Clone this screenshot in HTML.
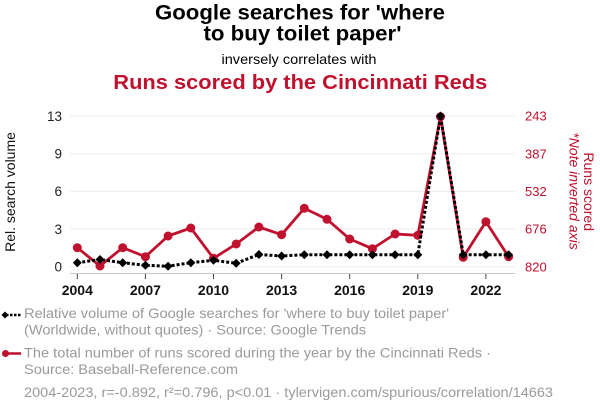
<!DOCTYPE html>
<html><head><meta charset="utf-8"><style>
html,body{margin:0;padding:0;background:#fff;}
svg{display:block;}
text{font-family:"Liberation Sans",Arial,sans-serif;}
</style></head><body>
<svg width="600" height="414" viewBox="0 0 600 414" xmlns="http://www.w3.org/2000/svg">
<rect width="600" height="414" fill="#fff"/>
<!-- titles -->
<text x="300" y="19.5" text-anchor="middle" font-size="21" font-weight="bold" fill="#000" textLength="290" lengthAdjust="spacingAndGlyphs">Google searches for 'where</text>
<text x="302.5" y="40.7" text-anchor="middle" font-size="21" font-weight="bold" fill="#000" textLength="198" lengthAdjust="spacingAndGlyphs">to buy toilet paper'</text>
<text x="299" y="64" text-anchor="middle" font-size="14" fill="#000" textLength="155" lengthAdjust="spacingAndGlyphs">inversely correlates with</text>
<text x="300.3" y="89" text-anchor="middle" font-size="20.5" font-weight="bold" fill="#c0112e" textLength="374" lengthAdjust="spacingAndGlyphs">Runs scored by the Cincinnati Reds</text>

<!-- gridlines -->
<g stroke="#eeeeee" stroke-width="1">
<line x1="70" y1="116" x2="515" y2="116"/>
<line x1="70" y1="153.7" x2="515" y2="153.7"/>
<line x1="70" y1="191.4" x2="515" y2="191.4"/>
<line x1="70" y1="229" x2="515" y2="229"/>
<line x1="70" y1="266.7" x2="515" y2="266.7"/>
</g>
<line x1="70" y1="273.5" x2="515" y2="273.5" stroke="#c8c8c8" stroke-width="1"/>
<g stroke="#444" stroke-width="1">
<line x1="77.3" y1="274" x2="77.3" y2="279"/>
<line x1="145.4" y1="274" x2="145.4" y2="279"/>
<line x1="213.5" y1="274" x2="213.5" y2="279"/>
<line x1="281.6" y1="274" x2="281.6" y2="279"/>
<line x1="349.7" y1="274" x2="349.7" y2="279"/>
<line x1="417.8" y1="274" x2="417.8" y2="279"/>
<line x1="485.9" y1="274" x2="485.9" y2="279"/>
</g>

<!-- left tick labels -->
<g font-size="13.5" fill="#222" text-anchor="end">
<text x="62" y="121">13</text>
<text x="62" y="158.5">9</text>
<text x="62" y="196.2">6</text>
<text x="62" y="233.8">3</text>
<text x="62" y="271.5">0</text>
</g>
<!-- right tick labels -->
<g font-size="13" fill="#c0112e" text-anchor="start">
<text x="525" y="120.7">243</text>
<text x="525" y="158.4">387</text>
<text x="525" y="196.1">532</text>
<text x="525" y="233.7">676</text>
<text x="525" y="271.4">820</text>
</g>
<!-- x tick labels -->
<g font-size="14" font-weight="bold" fill="#111" text-anchor="middle">
<text x="77.3" y="295">2004</text>
<text x="145.4" y="295">2007</text>
<text x="213.5" y="295">2010</text>
<text x="281.6" y="295">2013</text>
<text x="349.7" y="295">2016</text>
<text x="417.8" y="295">2019</text>
<text x="485.9" y="295">2022</text>
</g>

<!-- axis titles -->
<text transform="translate(15,192) rotate(-90)" text-anchor="middle" font-size="14" fill="#111">Rel. search volume</text>
<text transform="translate(584,191.7) rotate(90)" text-anchor="middle" font-size="14" fill="#c0112e">Runs scored</text>
<text transform="translate(569.5,191) rotate(90)" text-anchor="middle" font-size="14" font-style="italic" fill="#c0112e">*Note inverted axis</text>

<!-- red series -->
<polyline fill="none" stroke="#c0112e" stroke-width="2.8" stroke-linejoin="round" points="77.3,247.7 100,266 122.7,247.7 145.4,256.7 168.1,236 190.8,228 213.5,258.3 236.2,244 258.9,227 281.6,234.7 304.3,208.3 327,219.3 349.7,239 372.4,248.7 395.1,234 417.8,235.3 440.5,116.7 463.2,257.3 485.9,221.7 508.6,256.7"/>
<g fill="#c0112e">
<circle cx="77.3" cy="247.7" r="4.5"/><circle cx="100" cy="266" r="4.5"/><circle cx="122.7" cy="247.7" r="4.5"/><circle cx="145.4" cy="256.7" r="4.5"/><circle cx="168.1" cy="236" r="4.5"/><circle cx="190.8" cy="228" r="4.5"/><circle cx="213.5" cy="258.3" r="4.5"/><circle cx="236.2" cy="244" r="4.5"/><circle cx="258.9" cy="227" r="4.5"/><circle cx="281.6" cy="234.7" r="4.5"/><circle cx="304.3" cy="208.3" r="4.5"/><circle cx="327" cy="219.3" r="4.5"/><circle cx="349.7" cy="239" r="4.5"/><circle cx="372.4" cy="248.7" r="4.5"/><circle cx="395.1" cy="234" r="4.5"/><circle cx="417.8" cy="235.3" r="4.5"/><circle cx="440.5" cy="116.7" r="4.5"/><circle cx="463.2" cy="257.3" r="4.5"/><circle cx="485.9" cy="221.7" r="4.5"/><circle cx="508.6" cy="256.7" r="4.5"/>
</g>

<!-- black series -->
<polyline fill="none" stroke="#000" stroke-width="3" stroke-dasharray="3,2" points="77.3,262.7 100,259.5 122.7,262.7 145.4,265.3 168.1,266.2 190.8,262.7 213.5,260.3 236.2,263.3 258.9,254.5 281.6,256 304.3,254.7 327,254.7 349.7,254.7 372.4,254.7 395.1,254.7 417.8,254.7 440.5,116 463.2,254.7 485.9,254.7 508.6,254.7"/>
<g fill="#000">
<path d="M77.3,258.2 l4.5,4.5 l-4.5,4.5 l-4.5,-4.5z"/>
<path d="M100,255 l4.5,4.5 l-4.5,4.5 l-4.5,-4.5z"/>
<path d="M122.7,258.2 l4.5,4.5 l-4.5,4.5 l-4.5,-4.5z"/>
<path d="M145.4,260.8 l4.5,4.5 l-4.5,4.5 l-4.5,-4.5z"/>
<path d="M168.1,261.7 l4.5,4.5 l-4.5,4.5 l-4.5,-4.5z"/>
<path d="M190.8,258.2 l4.5,4.5 l-4.5,4.5 l-4.5,-4.5z"/>
<path d="M213.5,255.8 l4.5,4.5 l-4.5,4.5 l-4.5,-4.5z"/>
<path d="M236.2,258.8 l4.5,4.5 l-4.5,4.5 l-4.5,-4.5z"/>
<path d="M258.9,250 l4.5,4.5 l-4.5,4.5 l-4.5,-4.5z"/>
<path d="M281.6,251.5 l4.5,4.5 l-4.5,4.5 l-4.5,-4.5z"/>
<path d="M304.3,250.2 l4.5,4.5 l-4.5,4.5 l-4.5,-4.5z"/>
<path d="M327,250.2 l4.5,4.5 l-4.5,4.5 l-4.5,-4.5z"/>
<path d="M349.7,250.2 l4.5,4.5 l-4.5,4.5 l-4.5,-4.5z"/>
<path d="M372.4,250.2 l4.5,4.5 l-4.5,4.5 l-4.5,-4.5z"/>
<path d="M395.1,250.2 l4.5,4.5 l-4.5,4.5 l-4.5,-4.5z"/>
<path d="M417.8,250.2 l4.5,4.5 l-4.5,4.5 l-4.5,-4.5z"/>
<path d="M440.5,111.5 l4.5,4.5 l-4.5,4.5 l-4.5,-4.5z"/>
<path d="M463.2,250.2 l4.5,4.5 l-4.5,4.5 l-4.5,-4.5z"/>
<path d="M485.9,250.2 l4.5,4.5 l-4.5,4.5 l-4.5,-4.5z"/>
<path d="M508.6,250.2 l4.5,4.5 l-4.5,4.5 l-4.5,-4.5z"/>
</g>

<!-- legend -->
<line x1="6" y1="315" x2="21" y2="315" stroke="#000" stroke-width="2.5" stroke-dasharray="2.5,1.5"/>
<path d="M5,311.5 l3.5,3.5 l-3.5,3.5 l-3.5,-3.5z" fill="#000"/>
<line x1="6" y1="353.5" x2="21" y2="353.5" stroke="#c0112e" stroke-width="2.5"/>
<circle cx="5.5" cy="353.5" r="3.5" fill="#c0112e"/>
<g font-size="14" fill="#9a9a9a">
<text x="24" y="318" textLength="425" lengthAdjust="spacingAndGlyphs">Relative volume of Google searches for 'where to buy toilet paper'</text>
<text x="24" y="334.5" textLength="342" lengthAdjust="spacingAndGlyphs">(Worldwide, without quotes) · Source: Google Trends</text>
<text x="24" y="357.5" textLength="467" lengthAdjust="spacingAndGlyphs">The total number of runs scored during the year by the Cincinnati Reds ·</text>
<text x="24" y="374" textLength="214" lengthAdjust="spacingAndGlyphs">Source: Baseball-Reference.com</text>
<text x="24" y="397" textLength="529" lengthAdjust="spacingAndGlyphs">2004-2023, r=-0.892, r²=0.796, p&lt;0.01 · tylervigen.com/spurious/correlation/14663</text>
</g>
</svg>
</body></html>
